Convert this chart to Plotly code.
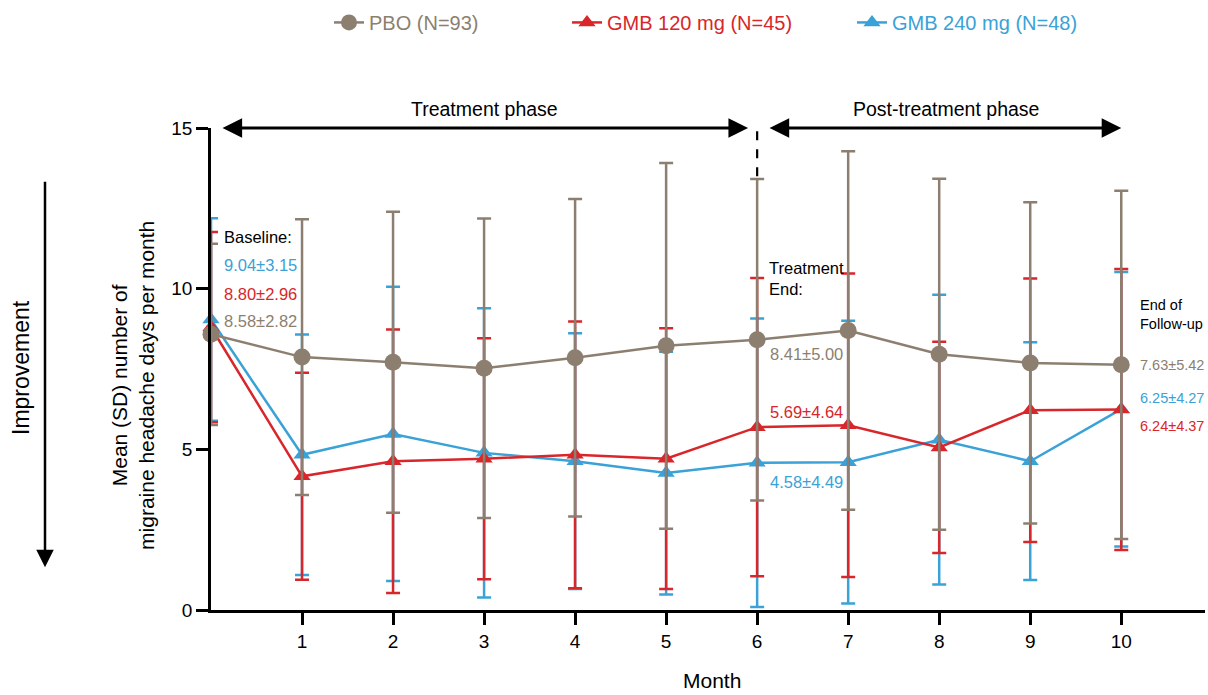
import plotly.graph_objects as go

# ---------------- data ----------------
months = [0, 1, 2, 3, 4, 5, 6, 7, 8, 9, 10]
pbo_mean = [8.58, 7.87, 7.71, 7.52, 7.85, 8.22, 8.41, 8.70, 7.96, 7.69, 7.63]
pbo_sd = [2.82, 4.29, 4.68, 4.66, 4.94, 5.69, 5.00, 5.58, 5.46, 5.00, 5.42]
gmb120_mean = [8.80, 4.16, 4.63, 4.71, 4.83, 4.71, 5.69, 5.75, 5.06, 6.22, 6.24]
gmb120_sd = [2.96, 3.22, 4.10, 3.75, 4.15, 4.06, 4.64, 4.72, 3.29, 4.10, 4.37]
gmb240_mean = [9.04, 4.83, 5.48, 4.89, 4.63, 4.26, 4.58, 4.60, 5.30, 4.63, 6.25]
gmb240_sd = [3.15, 3.74, 4.58, 4.50, 3.98, 3.78, 4.49, 4.40, 4.51, 3.70, 4.27]

names = ["PBO (N=93)", "GMB 120 mg (N=45)", "GMB 240 mg (N=48)"]
x_ticks = [1, 2, 3, 4, 5, 6, 7, 8, 9, 10]
y_ticks = [0, 5, 10, 15]

C_PBO = "#8C7F70"
C_RED = "#D8262A"
C_BLUE = "#3AA2D6"
FONT = "Liberation Sans, Arial, sans-serif"

fig = go.Figure()


def add_series(mean, sd, name, color, symbol, size, legend):
    fig.add_trace(go.Scatter(
        x=months, y=mean, name=name, mode="lines+markers",
        line=dict(color=color, width=2.5),
        marker=dict(color=color, symbol=symbol, size=size),
        error_y=dict(type="data", array=sd, visible=True, color=color,
                     thickness=2.5, width=7),
        cliponaxis=False, legend=legend, showlegend=True,
    ))


add_series(gmb240_mean, gmb240_sd, names[2], C_BLUE, "triangle-up", 15, "legend3")
add_series(gmb120_mean, gmb120_sd, names[1], C_RED, "triangle-up", 15, "legend2")
add_series(pbo_mean, pbo_sd, names[0], C_PBO, "circle", 17, "legend")

W, H = 1208, 695
L, R, T, B = 211, 3, 126, 85
PW = W - L - R
PH = H - T - B


def px_x(p):
    return (p - L) / PW


def px_y(p):
    return (H - B - p) / PH


def leg(xpx, color):
    return dict(x=px_x(xpx), y=px_y(20), xanchor="left", orientation="h",
                yanchor="middle", bgcolor="rgba(0,0,0,0)", itemwidth=30,
                font=dict(family=FONT, size=20, color=color))


axis_common = dict(ticks="outside", ticklen=12, tickwidth=2.5, tickcolor="black",
                   showline=True, linecolor="black", linewidth=2.5, showgrid=False,
                   zeroline=False, tickfont=dict(family=FONT, size=19, color="black"))

fig.update_layout(
    width=W, height=H,
    margin=dict(l=L, r=R, t=T, b=B),
    plot_bgcolor="white", paper_bgcolor="white",
    font=dict(family=FONT, color="black"),
    showlegend=True,
    legend=leg(329, C_PBO),
    legend2=leg(567, C_RED),
    legend3=leg(852, C_BLUE),
    xaxis=dict(range=[0, 10.92], tickvals=x_ticks, **axis_common),
    yaxis=dict(range=[0, 15], tickvals=y_ticks, **axis_common),
)

ann = []


def txt(x, y, text, color="black", size=16.5, xanchor="left", xref="x", yref="y", **kw):
    ann.append(dict(x=x, y=y, xref=xref, yref=yref, text=text, showarrow=False,
                    xanchor=xanchor, yanchor="middle",
                    font=dict(family=FONT, size=size, color=color), **kw))


# phase arrows
for x_head, x_tail in [(5.90, 0.11), (10.0, 6.12)]:
    ann.append(dict(x=x_head, y=15, ax=x_tail, ay=15, xref="x", yref="y",
                    axref="x", ayref="y", text="", showarrow=True,
                    arrowside="end+start", arrowhead=2, arrowsize=1.4,
                    arrowwidth=2.8, arrowcolor="black"))
txt(3.01, px_y(107), "Treatment phase", size=19.5, xanchor="center", yref="paper")
txt(8.07, px_y(107), "Post-treatment phase", size=19.5, xanchor="center", yref="paper")

# baseline labels
txt(0.12, 11.6, "Baseline:")
txt(0.12, 10.73, "9.04±3.15", C_BLUE)
txt(0.12, 9.83, "8.80±2.96", C_RED)
txt(0.12, 9.0, "8.58±2.82", C_PBO)

# treatment end
txt(6.11, 10.32, "Treatment<br>End:", align="left")
txt(6.12, 7.97, "8.41±5.00", C_PBO)
txt(6.12, 6.17, "5.69±4.64", C_RED)
txt(6.12, 3.97, "4.58±4.49", C_BLUE)

# end of follow-up (right edge: slightly smaller so it fits in the page)
RS = 14.5
txt(10.18, 9.21, "End of<br>Follow-up", size=RS, align="left")
txt(10.18, 7.63, "7.63±5.42", C_PBO, RS)
txt(10.18, 6.60, "6.25±4.27", C_BLUE, RS)
txt(10.18, 5.74, "6.24±4.37", C_RED, RS)

# axis titles
txt(px_x(133), px_y(385), "Mean (SD) number of<br>migraine headache days per month",
    size=21, xanchor="center", xref="paper", yref="paper", textangle=-90)
txt(5.5, px_y(681), "Month", size=21, xanchor="center", yref="paper")

# improvement arrow
txt(px_x(21), px_y(367), "Improvement", size=23, xanchor="center",
    xref="paper", yref="paper", textangle=-90)
ann.append(dict(x=px_x(45), y=px_y(567), xref="paper", yref="paper", ax=0, ay=-387,
                text="", showarrow=True, arrowhead=2, arrowsize=1.4, arrowwidth=2.5,
                arrowcolor="black"))

fig.update_layout(annotations=ann)

fig.add_shape(type="line", x0=6, x1=6, y0=13.5, y1=15, xref="x", yref="y",
              line=dict(color="black", width=2.2, dash="dash"))

fig.write_html("out.html")
